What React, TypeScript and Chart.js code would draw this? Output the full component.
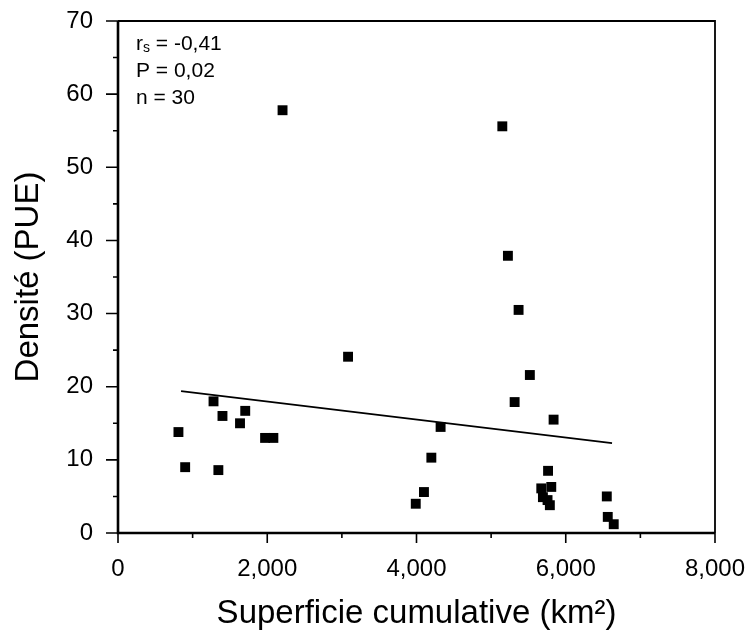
import { useEffect, useRef } from 'react';
import { Chart, registerables } from 'chart.js';

Chart.register(...registerables);

// Superficie cumulative (km²)
const superficie = [
  810, 900, 1280, 1345, 1400, 1635, 1705, 1971, 2082, 2205,
  3083, 3990, 4100, 4199, 4323, 5150, 5225, 5368, 5519, 5315,
  5837, 5763, 5672, 5806, 5694, 5756, 5787, 6550, 6563, 6643,
];
// Densité (PUE)
const densite = [
  13.8, 9.0, 18.0, 8.6, 16.0, 15.0, 16.7, 13.0, 13.0, 57.8,
  24.1, 4.0, 5.6, 10.3, 14.5, 55.6, 37.9, 30.5, 21.6, 17.9,
  15.5, 8.5, 6.1, 6.3, 4.9, 4.5, 3.8, 5.0, 2.2, 1.2,
];
// Regression line end points
const trendX = [845, 6620];
const trendY = [19.4, 12.3];

const xMin = 0;
const xMax = 8000;
const xMinorStep = 1000;
const xLabelStep = 2000;
const yMin = 0;
const yMax = 70;
const yMinorStep = 5;
const yLabelStep = 10;

const statNames = ['r', 'P', 'n'];
const statSubs = ['s', '', ''];
const statValues = ['-0,41', '0,02', '30'];

const FONT = '"Liberation Sans", Arial, Helvetica, sans-serif';

const framePlugin = {
  id: 'frameAndTicks',
  afterDraw(chart: any) {
    const { ctx, chartArea: a, scales } = chart;
    const xs = scales.x;
    const ys = scales.y;
    ctx.save();
    ctx.strokeStyle = '#000';
    ctx.fillStyle = '#000';
    ctx.lineWidth = 1.6;
    ctx.beginPath();
    xs.ticks.forEach((t: any) => {
      const px = xs.getPixelForValue(t.value);
      const major = t.value % xLabelStep === 0;
      const len = major ? 10 : 5;
      ctx.moveTo(px, a.bottom);
      ctx.lineTo(px, a.bottom + len);
    });
    ys.ticks.forEach((t: any) => {
      const py = ys.getPixelForValue(t.value);
      const major = t.value % yLabelStep === 0;
      const len = major ? 12 : 5;
      ctx.moveTo(a.left, py);
      ctx.lineTo(a.left - len, py);
    });
    ctx.stroke();

    // frame
    ctx.lineWidth = 2.6;
    ctx.beginPath();
    ctx.moveTo(a.left, a.top);
    ctx.lineTo(a.left, a.bottom);
    ctx.lineTo(a.right, a.bottom);
    ctx.stroke();
    ctx.lineWidth = 1.8;
    ctx.beginPath();
    ctx.moveTo(a.left, a.top);
    ctx.lineTo(a.right, a.top);
    ctx.lineTo(a.right, a.bottom);
    ctx.stroke();

    // statistics
    ctx.textBaseline = 'middle';
    ctx.textAlign = 'left';
    const x0 = a.left + 18;
    statNames.forEach((name, i) => {
      const y = a.top + 23 + i * 27;
      let x = x0;
      ctx.font = `21px ${FONT}`;
      ctx.fillText(name, x, y);
      x += ctx.measureText(name).width;
      if (statSubs[i]) {
        ctx.font = `14px ${FONT}`;
        ctx.fillText(statSubs[i], x, y + 4);
        x += ctx.measureText(statSubs[i]).width;
      }
      ctx.font = `21px ${FONT}`;
      ctx.fillText(' = ' + statValues[i], x, y);
    });
    ctx.restore();
  },
};

export default function App() {
  const ref = useRef<HTMLCanvasElement>(null);

  useEffect(() => {
    if (!ref.current) return;
    const points = superficie.map((x, i) => ({ x, y: densite[i] }));
    const trend = trendX.map((x, i) => ({ x, y: trendY[i] }));
    const chart = new Chart(ref.current, {
      type: 'scatter',
      data: {
        datasets: [
          {
            type: 'line',
            data: trend,
            borderColor: '#000',
            borderWidth: 1.8,
            pointRadius: 0,
            fill: false,
          } as any,
          {
            data: points,
            pointStyle: 'rect',
            pointRadius: 7,
            pointHoverRadius: 7,
            pointBackgroundColor: '#000',
            pointBorderWidth: 0,
            backgroundColor: '#000',
          },
        ],
      },
      options: {
        animation: false,
        responsive: false,
        devicePixelRatio: 1,
        layout: { autoPadding: false, padding: { top: 21, right: 37, left: 0, bottom: 0 } },
        plugins: { legend: { display: false }, tooltip: { enabled: false } },
        scales: {
          x: {
            type: 'linear',
            min: xMin,
            max: xMax,
            grid: { display: false, drawTicks: false },
            border: { display: false },
            ticks: {
              stepSize: xMinorStep,
              autoSkip: false,
              maxRotation: 0,
              padding: 22,
              color: '#000',
              font: { family: FONT, size: 24 },
              callback: (v: any) =>
                Number(v) % xLabelStep === 0 ? Number(v).toLocaleString('en-US') : '',
            },
            title: {
              display: true,
              text: 'Superficie cumulative (km²)',
              color: '#000',
              font: { family: FONT, size: 33 },
              padding: { top: 0, bottom: 3 },
            },
            afterFit: (s: any) => {
              s.height = 104;
              s.paddingLeft = 0;
              s.paddingRight = 0;
              s.paddingTop = 0;
              s.paddingBottom = 0;
            },
          },
          y: {
            type: 'linear',
            min: yMin,
            max: yMax,
            grid: { display: false, drawTicks: false },
            border: { display: false },
            ticks: {
              stepSize: yMinorStep,
              autoSkip: false,
              padding: 25,
              color: '#000',
              font: { family: FONT, size: 24 },
              callback: (v: any) => (Number(v) % yLabelStep === 0 ? String(v) : ''),
            },
            title: {
              display: true,
              text: 'Densité (PUE)',
              color: '#000',
              font: { family: FONT, size: 33 },
              padding: { top: 9, bottom: 0 },
            },
            afterFit: (s: any) => {
              s.width = 118;
              s.paddingLeft = 0;
              s.paddingRight = 0;
              s.paddingTop = 0;
              s.paddingBottom = 0;
            },
          },
        },
      },
      plugins: [framePlugin],
    });
    return () => chart.destroy();
  }, []);

  return (
    <div style={{ position: 'fixed', left: 0, top: 0, width: 752, height: 637, background: '#fff' }}>
      <canvas ref={ref} width={752} height={637} style={{ display: 'block', width: 752, height: 637 }} />
    </div>
  );
}
